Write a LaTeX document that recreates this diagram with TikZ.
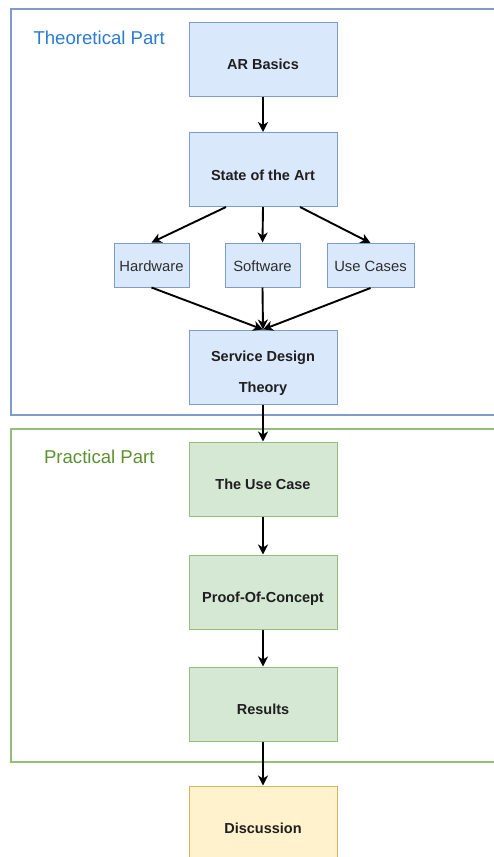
\documentclass[tikz,border=0pt]{standalone}
\usepackage{fontspec}
\setmainfont{Liberation Sans}
\usetikzlibrary{arrows.meta}
\definecolor{blueline}{HTML}{7E9CCB}
\definecolor{bluefill}{HTML}{DAE8FC}
\definecolor{greenline}{HTML}{93BF7A}
\definecolor{greenfill}{HTML}{D5E8D4}
\definecolor{yellowline}{HTML}{D6B656}
\definecolor{yellowfill}{HTML}{FFF2CC}
\definecolor{theotext}{HTML}{2B7BD1}
\definecolor{practext}{HTML}{5B9132}
\tikzset{
  bigbox/.style={draw, line width=1pt, minimum width=148pt, minimum height=74pt,
    font=\fontsize{14.5}{31}\selectfont\bfseries, text=black!88, align=center,
    inner sep=0pt, text height=24.4pt, text depth=3pt},
  smallbox/.style={draw=blueline, fill=bluefill, line width=1pt, minimum height=44pt,
    font=\fontsize{14.8}{16}\selectfont, text=black!82, inner sep=0pt,
    text height=15.4pt, text depth=3pt},
  theo/.style={bigbox, draw=blueline, fill=bluefill},
  prac/.style={bigbox, draw=greenline, fill=greenfill},
  disc/.style={bigbox, draw=yellowline, fill=yellowfill},
  frame/.style={line width=1.8pt},
  partlabel/.style={anchor=west, font=\fontsize{18.6}{21}\selectfont},
  link/.style={line width=1.9pt, -{Stealth[length=10pt,width=10pt,inset=3pt]}},
}
\begin{document}
\begin{tikzpicture}[x=1pt,y=-1pt]
\useasboundingbox (0,0) rectangle (494,857);
\clip (0,0) rectangle (494,857);
% section frames
\draw[frame, draw=blueline] (11,9) rectangle (520,415);
\draw[frame, draw=greenline] (11,429) rectangle (520,762);
\node[partlabel, text=theotext] (theolbl) at (30,37.5) {Theoretical Part};
\node[partlabel, text=practext] (praclbl) at (40.5,456.5) {Practical Part};
% theoretical part
\node[theo] (ar) at (263,59) {AR Basics};
\node[theo] (sota) at (263,169.5) {State of the Art};
\node[smallbox, minimum width=75pt] (hw) at (151.5,265) {Hardware};
\node[smallbox, minimum width=75pt] (sw) at (262.5,265) {Software};
\node[smallbox, minimum width=87pt] (uc) at (370.5,265.5) {Use Cases};
\node[theo, text height=53pt] (sdt) at (263,367) {Service Design\\Theory};
% practical part
\node[prac] (tuc) at (263,479) {The Use Case};
\node[prac] (poc) at (263,592) {Proof-Of-Concept};
\node[prac] (res) at (263,704) {Results};
\node[disc] (disc) at (263,823) {Discussion};
% connectors
\draw[link] (ar) -- (sota);
\draw[link] ([xshift=-37pt]sota.south) -- (hw.north);
\draw[link] (sota.south) -- (sw.north);
\draw[link] ([xshift=37pt]sota.south) -- (uc.north);
\draw[link] (hw.south) -- (sdt.north);
\draw[link] (sw.south) -- (sdt.north);
\draw[link] (uc.south) -- (sdt.north);
\draw[link] (sdt) -- (tuc);
\draw[link] (tuc) -- (poc);
\draw[link] (poc) -- (res);
\draw[link] (res) -- (disc);
\end{tikzpicture}
\end{document}
